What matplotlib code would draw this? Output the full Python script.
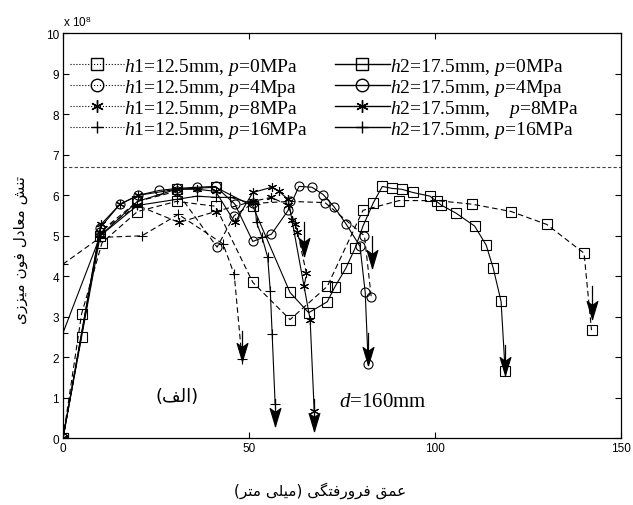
import matplotlib
matplotlib.use("Agg")
import matplotlib.pyplot as plt
from matplotlib.lines import Line2D
from matplotlib.path import Path

plt.rcParams['mathtext.fontset'] = 'custom'
plt.rcParams['mathtext.rm'] = 'Liberation Serif'
plt.rcParams['mathtext.it'] = 'Liberation Serif:italic'

# ---------------- data (values in units of 1e8) ----------------
h1p0_x = [0, 5, 10.5, 20, 30.5, 41, 51, 61, 71, 80.6, 90.3, 100.5, 110, 120.4, 130, 140, 142]
h1p0_y = [0, 3.07, 4.83, 5.6, 5.85, 5.73, 3.85, 2.93, 3.75, 5.63, 5.87, 5.87, 5.78, 5.6, 5.28, 4.57, 2.67]

h1p4_x = [0, 10, 20, 30.5, 41.4, 46, 51, 61, 70.4, 81, 82.8]
h1p4_y = [0, 5.1, 5.85, 6.1, 4.72, 5.5, 5.8, 5.85, 5.82, 5.0, 3.5]

h1p8_x = [0, 10, 20, 31.2, 41, 51, 56, 60.5, 62.4, 63, 65.4, 64.8]
h1p8_y = [0, 5.1, 5.75, 5.33, 5.6, 5.85, 5.95, 5.75, 5.28, 5.1, 4.07, 3.75]

h1p16_x = [0, 10, 21.2, 31, 43, 46, 48.1]
h1p16_y = [4.3, 4.96, 5.0, 5.53, 4.8, 4.05, 1.95]

h2p0_x = [0, 5, 10, 20, 30.5, 41, 51, 61, 66, 71, 73, 76, 78.5, 80.6, 83.4, 85.8, 88.5, 91,
          94, 98.6, 101.6, 105.6, 110.6, 113.7, 115.6, 117.7, 118.8]
h2p0_y = [0, 2.5, 5.0, 5.85, 6.15, 6.2, 5.73, 3.6, 3.1, 3.37, 3.73, 4.2, 4.7, 5.24, 5.82, 6.22, 6.17, 6.15,
          6.07, 5.98, 5.76, 5.56, 5.24, 4.77, 4.2, 3.38, 1.65]

h2p4_x = [0, 10, 15.3, 20.2, 25.8, 30.6, 36, 41, 46.2, 51, 56, 60.5, 63.4, 66.9, 69.9, 72.8, 76, 79.8, 81.2, 82]
h2p4_y = [0, 5.2, 5.78, 6.0, 6.12, 6.17, 6.2, 6.22, 5.78, 4.86, 5.04, 5.63, 6.22, 6.2, 6.02, 5.72, 5.3, 4.74, 3.6, 1.83]

h2p8_x = [0, 10.2, 15.3, 20.2, 30.6, 36, 41, 46.2, 51, 56.1, 58, 60.5, 61.5, 66.4, 67.5]
h2p8_y = [0, 5.28, 5.78, 6.0, 6.15, 6.15, 6.1, 5.33, 6.07, 6.2, 6.1, 5.9, 5.4, 2.93, 0.67]

h2p16_x = [0, 10, 20, 30.5, 36, 41, 45, 51.6, 52, 53.5, 55, 55.7, 56.2, 57]
h2p16_y = [2.6, 5.0, 5.75, 5.9, 5.98, 5.95, 5.95, 5.78, 5.33, 4.96, 4.47, 3.63, 2.57, 0.84]

yield_level = 6.7

# arrows: x, y_start, y_end (tip)
arrow_x = [142, 118.7, 82, 83.1, 64.8, 67.5, 57, 48.1]
arrow_y0 = [3.75, 2.3, 2.6, 5.0, 5.33, 0.96, 0.96, 2.64]
arrow_y1 = [2.94, 1.55, 1.8, 4.2, 4.49, 0.17, 0.3, 1.9]

labels_h1 = [r"$h$1=12.5mm, $p$=0MPa", r"$h$1=12.5mm, $p$=4Mpa",
             r"$h$1=12.5mm, $p$=8MPa", r"$h$1=12.5mm, $p$=16MPa"]
labels_h2 = [r"$h$2=17.5mm, $p$=0MPa", r"$h$2=17.5mm, $p$=4Mpa",
             r"$h$2=17.5mm,    $p$=8MPa", r"$h$2=17.5mm, $p$=16MPa"]
ASTER = (6, 2, 0)
markers = ['s', 'o', ASTER, '+']

xlabel_fa = "عمق فرورفتگی (میلی متر)"
ylabel_fa = "تنش معادل فون میززی"
panel_fa = "(الف)"

# ---------------- minimal Persian shaping (presentation forms, visual order) ----------------
FORMS = {  # isolated, final, initial, medial
    'ا': ('\uFE8D', '\uFE8E', None, None),
    'ت': ('\uFE95', '\uFE96', '\uFE97', '\uFE98'),
    'ن': ('\uFEE5', '\uFEE6', '\uFEE7', '\uFEE8'),
    'ش': ('\uFEB5', '\uFEB6', '\uFEB7', '\uFEB8'),
    'م': ('\uFEE1', '\uFEE2', '\uFEE3', '\uFEE4'),
    'ع': ('\uFEC9', '\uFECA', '\uFECB', '\uFECC'),
    'د': ('\uFEA9', '\uFEAA', None, None),
    'ل': ('\uFEDD', '\uFEDE', '\uFEDF', '\uFEE0'),
    'ف': ('\uFED1', '\uFED2', '\uFED3', '\uFED4'),
    'و': ('\uFEED', '\uFEEE', None, None),
    'ز': ('\uFEAF', '\uFEB0', None, None),
    'ر': ('\uFEAD', '\uFEAE', None, None),
    'ق': ('\uFED5', '\uFED6', '\uFED7', '\uFED8'),
    'ی': ('\uFEEF', '\uFEF0', '\uFEF3', '\uFEF4'),
    'گ': ('\uFB92', '\uFB93', '\uFB94', '\uFB95'),
}


def shape_fa(s):
    out = []
    for i, c in enumerate(s):
        if c not in FORMS:
            out.append(c)
            continue
        prev = s[i - 1] if i > 0 else None
        nxt = s[i + 1] if i + 1 < len(s) else None
        con_prev = prev in FORMS and FORMS[prev][2] is not None
        con_next = nxt in FORMS and FORMS[c][2] is not None
        iso, fin, ini, med = FORMS[c]
        if con_prev and con_next:
            out.append(med)
        elif con_prev:
            out.append(fin)
        elif con_next:
            out.append(ini)
        else:
            out.append(iso)
    vis = ''.join(out)[::-1]
    return vis.translate(str.maketrans('()', ')('))


# notched, downward-pointing arrow head; tip at the data point
ARROW_HEAD = Path([(0, 0), (-0.3, 1.0), (0, 0.78), (0.3, 1.0), (0, 0)],
                  [Path.MOVETO, Path.LINETO, Path.LINETO, Path.LINETO, Path.CLOSEPOLY])

# ---------------- figure ----------------
fig = plt.figure(figsize=(6.33, 5.06), dpi=100)
ax = fig.add_axes([0.0995, 0.132, 0.882, 0.8])

dash = (5, 3)
lw = 0.8
ms = 6.5
h1_series = [(h1p0_x, h1p0_y), (h1p4_x, h1p4_y), (h1p8_x, h1p8_y), (h1p16_x, h1p16_y)]
h2_series = [(h2p0_x, h2p0_y), (h2p4_x, h2p4_y), (h2p8_x, h2p8_y), (h2p16_x, h2p16_y)]

for (x, y), m in zip(h1_series, markers):
    ax.plot(x, y, color='black', lw=lw, dashes=dash, marker=m, ms=ms,
            mfc='none', mec='black', mew=0.8)
for (x, y), m in zip(h2_series, markers):
    ax.plot(x, y, color='black', lw=lw, ls='-', marker=m, ms=ms,
            mfc='none', mec='black', mew=0.8)

ax.plot([0, 150], [yield_level, yield_level], color='#444444', lw=0.8, dashes=(3, 2))

for xa, y0, y1 in zip(arrow_x, arrow_y0, arrow_y1):
    ax.plot([xa, xa], [y0, y1], color='black', lw=0.9)
    ax.plot([xa], [y1], ls='none', marker=ARROW_HEAD, ms=26, color='black',
            mfc='black', mec='black', mew=0.8, fillstyle='full')

ax.set_xlim(0, 150)
ax.set_ylim(0, 10)
ax.set_xticks([0, 50, 100, 150])
ax.set_yticks(range(0, 11))
ax.tick_params(direction='in', top=True, right=True, length=4, width=0.8,
               labelsize=8.5, pad=3)
for lab in ax.get_xticklabels() + ax.get_yticklabels():
    lab.set_family('Liberation Sans')
for sp in ax.spines.values():
    sp.set_linewidth(0.9)

ax.text(0.0, 1.012, r"x 10$^{\mathregular{8}}$", transform=ax.transAxes,
        fontsize=8.5, family='Liberation Sans', ha='left', va='bottom')

# legend
handles = []
labels = []
for i in range(4):
    handles.append(Line2D([], [], color='black', lw=lw, ls=':', marker=markers[i],
                          ms=9, mfc='none', mec='black', mew=1.0))
    labels.append(labels_h1[i])
for i in range(4):
    handles.append(Line2D([], [], color='black', lw=1.0, ls='-', marker=markers[i],
                          ms=9, mfc='none', mec='black', mew=1.0))
    labels.append(labels_h2[i])
leg = ax.legend(handles, labels, ncol=2, loc='upper left', bbox_to_anchor=(0.0125, 0.945),
                frameon=False, prop={'family': 'Liberation Serif', 'size': 14},
                handlelength=2.8, handletextpad=0.0, columnspacing=1.4,
                labelspacing=0.0, borderaxespad=0, borderpad=0)

ax.text(86, 0.91, r"$d$=160mm", fontsize=15, family='Liberation Serif', ha='center', va='center')
ax.text(30.6, 1.04, shape_fa(panel_fa), fontsize=13, family='DejaVu Sans', ha='center', va='center')

fig.text(0.505, 0.03, shape_fa(xlabel_fa), fontsize=11, family='DejaVu Sans', ha='center', va='center')
fig.text(0.032, 0.506, shape_fa(ylabel_fa), fontsize=11, family='DejaVu Sans', ha='center',
         va='center', rotation=90)

fig.savefig('out.png', dpi=100)
